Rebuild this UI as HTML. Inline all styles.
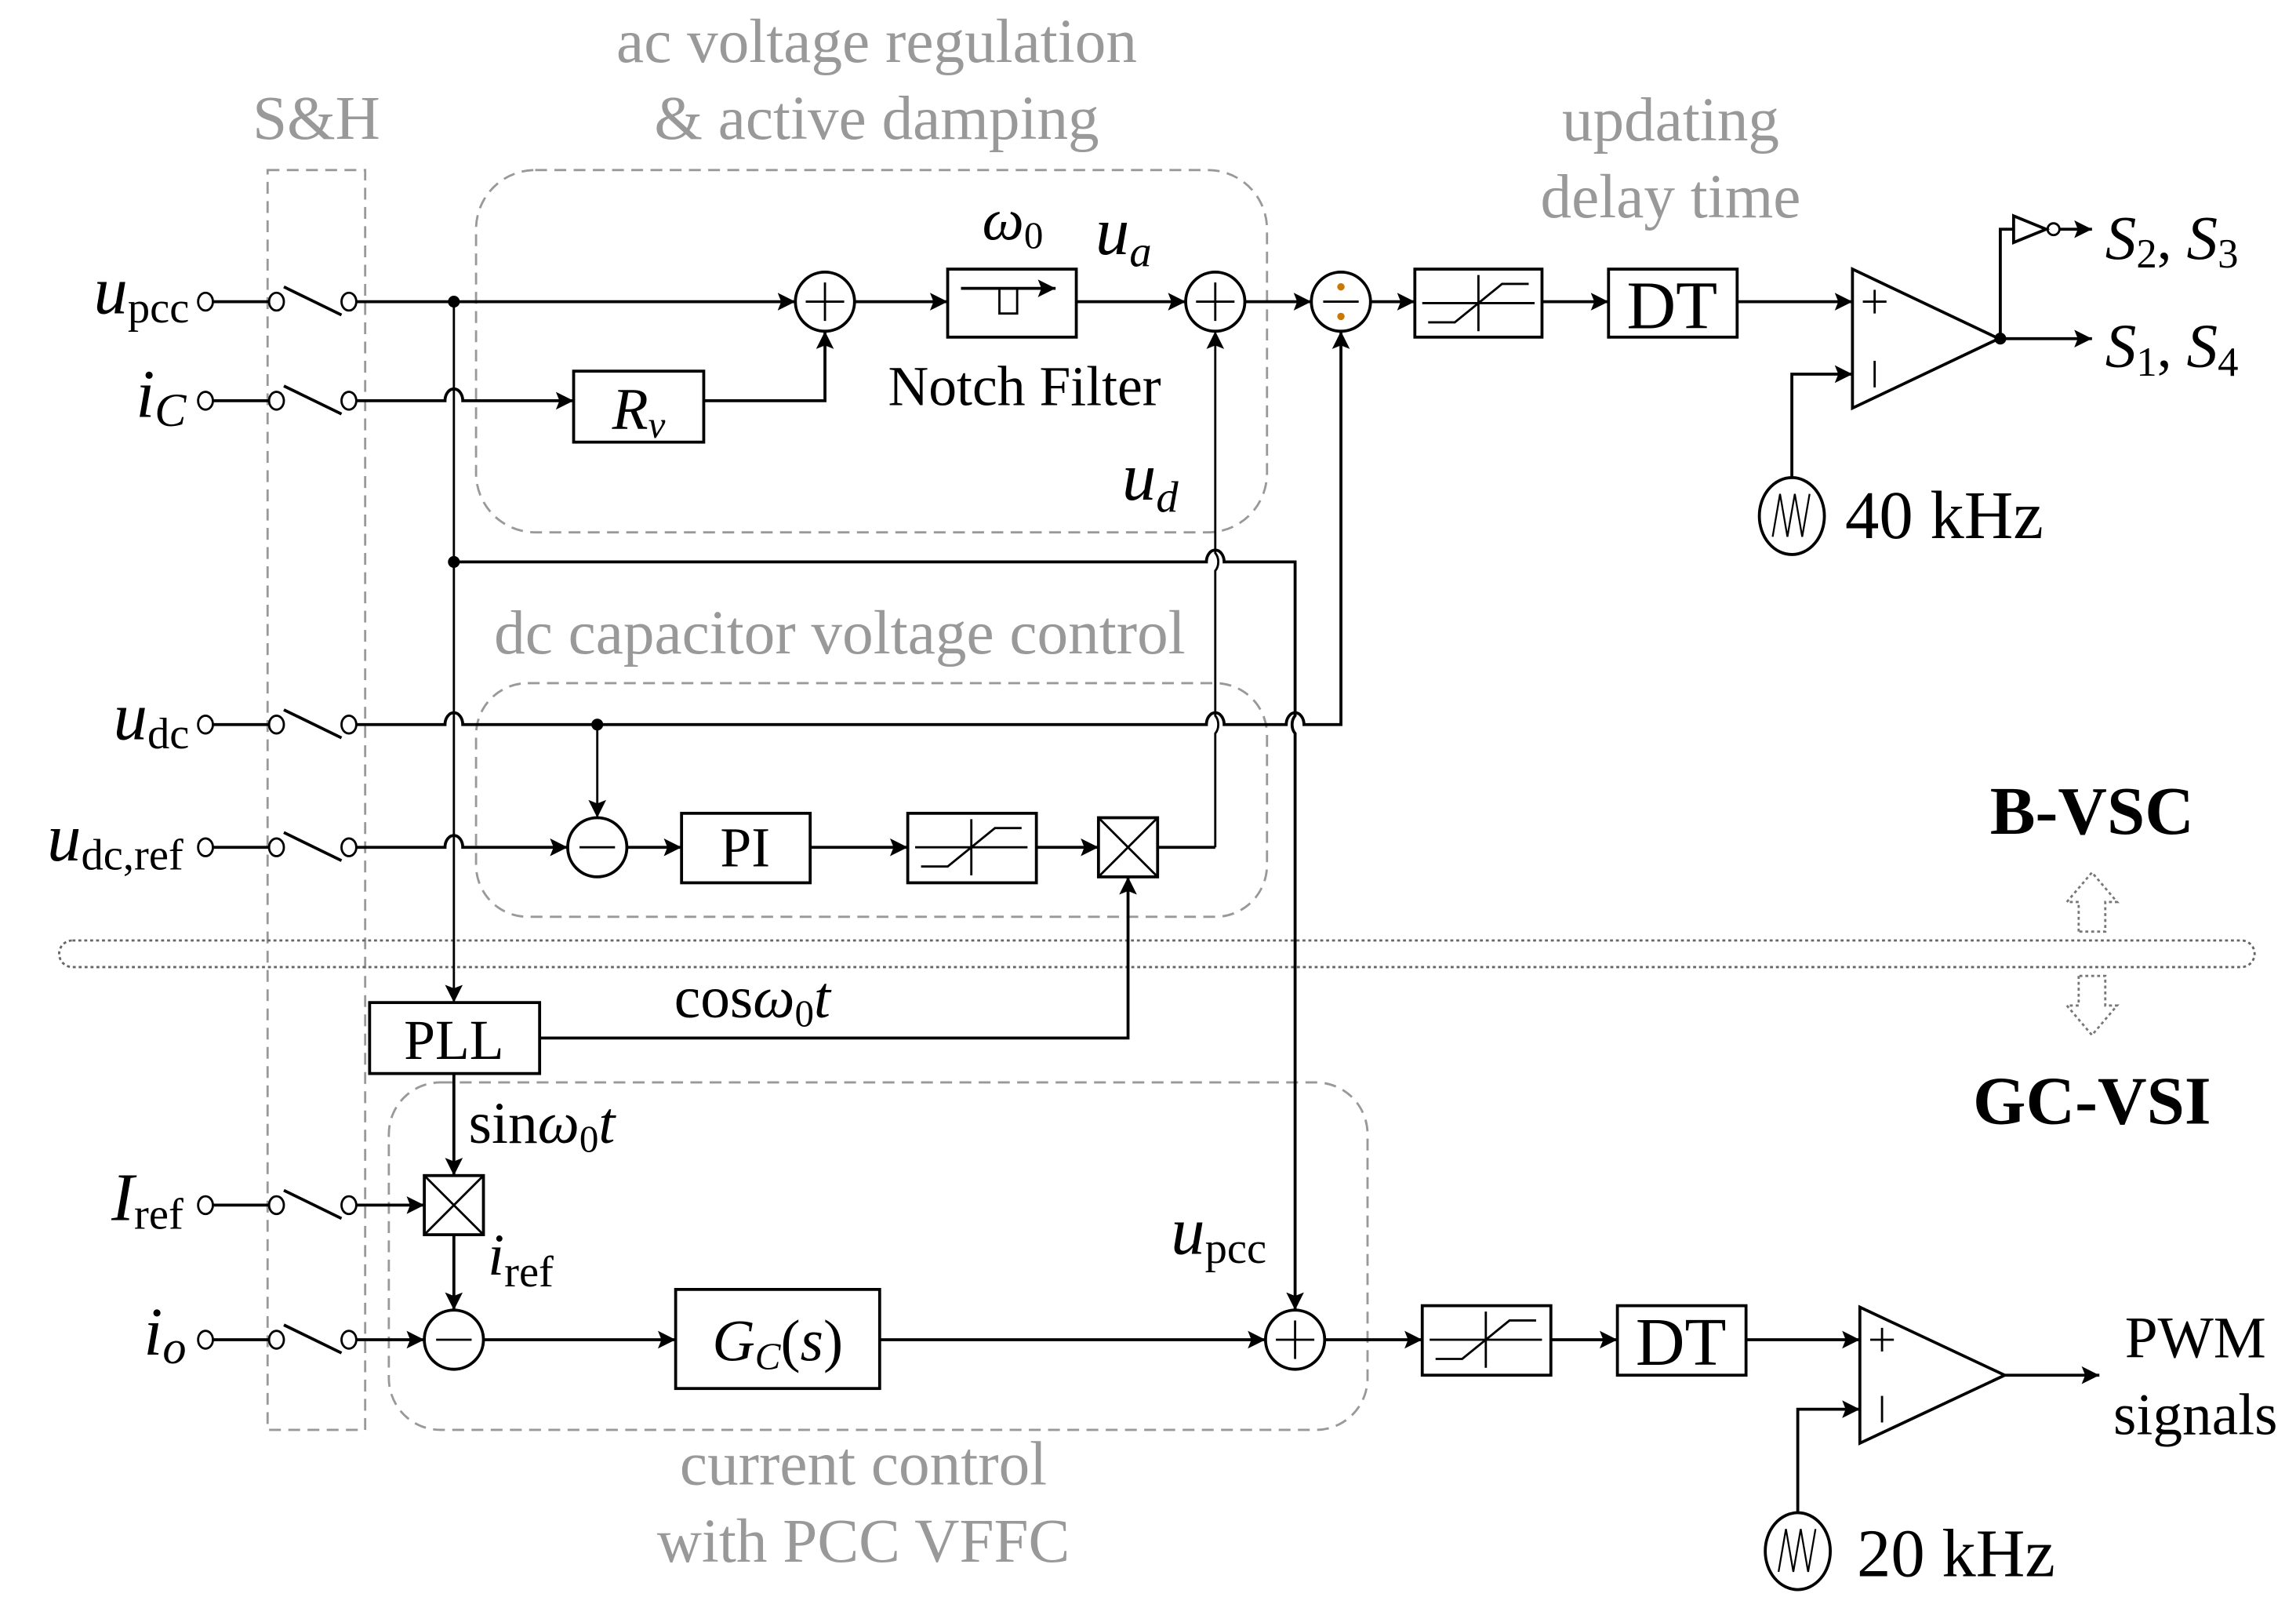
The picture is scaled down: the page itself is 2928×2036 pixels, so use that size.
<!DOCTYPE html>
<html><head><meta charset="utf-8"><style>
html,body{margin:0;padding:0;background:#fff;}
svg{display:block;}
text{font-family:"Liberation Serif",serif;}
.g{fill:#999;font-size:42px;text-anchor:middle;}
.i{font-style:italic;}
</style></head><body>
<svg width="2928" height="2036" viewBox="0 0 1553 1080" preserveAspectRatio="none" xmlns="http://www.w3.org/2000/svg">
<defs>
<marker id="a" viewBox="0 0 10 10" refX="10" refY="5" markerWidth="16" markerHeight="12" markerUnits="userSpaceOnUse" orient="auto">
<path d="M0,0 L10,5 L0,10 L2,5 z" fill="#000"/></marker>
</defs>
<g fill="none" stroke="#000" stroke-width="2">
<rect x="181" y="115" width="66" height="852" stroke="#999" stroke-dasharray="8,5" stroke-width="1.5"/>
<rect x="322" y="115" width="535" height="245" rx="40" stroke="#999" stroke-dasharray="8,5" stroke-width="1.5"/>
<rect x="322" y="462" width="535" height="158" rx="35" stroke="#999" stroke-dasharray="8,5" stroke-width="1.5"/>
<rect x="263" y="732" width="662" height="235" rx="35" stroke="#999" stroke-dasharray="8,5" stroke-width="1.5"/>
<rect x="40" y="636" width="1485" height="18" rx="9" stroke="#666" stroke-dasharray="2,2" stroke-width="1.5"/>
<path d="M1406,630 V610 H1398 L1415,590 L1432,610 H1424 V630 Z" stroke="#777" stroke-dasharray="2,2" stroke-width="1.5"/>
<path d="M1406,660 V680 H1398 L1415,700 L1432,680 H1424 V660 Z" stroke="#777" stroke-dasharray="2,2" stroke-width="1.5"/>
<path d="M144,204 H182 M192,194 L231,213"/>
<path d="M144,271 H182 M192,261 L231,280"/>
<path d="M144,490 H182 M192,480 L231,499"/>
<path d="M144,573 H182 M192,563 L231,582"/>
<path d="M144,815 H182 M192,805 L231,824"/>
<path d="M144,906 H182 M192,896 L231,915"/>
</g>
<g fill="#fff" stroke="#000" stroke-width="1.5">
<ellipse cx="139" cy="204" rx="5" ry="6"/><ellipse cx="187" cy="204" rx="5" ry="6"/><ellipse cx="236" cy="204" rx="5" ry="6"/>
<ellipse cx="139" cy="271" rx="5" ry="6"/><ellipse cx="187" cy="271" rx="5" ry="6"/><ellipse cx="236" cy="271" rx="5" ry="6"/>
<ellipse cx="139" cy="490" rx="5" ry="6"/><ellipse cx="187" cy="490" rx="5" ry="6"/><ellipse cx="236" cy="490" rx="5" ry="6"/>
<ellipse cx="139" cy="573" rx="5" ry="6"/><ellipse cx="187" cy="573" rx="5" ry="6"/><ellipse cx="236" cy="573" rx="5" ry="6"/>
<ellipse cx="139" cy="815" rx="5" ry="6"/><ellipse cx="187" cy="815" rx="5" ry="6"/><ellipse cx="236" cy="815" rx="5" ry="6"/>
<ellipse cx="139" cy="906" rx="5" ry="6"/><ellipse cx="187" cy="906" rx="5" ry="6"/><ellipse cx="236" cy="906" rx="5" ry="6"/>
</g>
<g fill="none" stroke="#000" stroke-width="2">
<path d="M241,204 H538" marker-end="url(#a)"/>
<path d="M307,204 V678" stroke-width="1.5" marker-end="url(#a)"/>
<path d="M241,271 H301 A6,8 0 0 1 313,271 H388" marker-end="url(#a)"/>
<rect x="388" y="251" width="88" height="48"/>
<path d="M476,271 H558 V224" marker-end="url(#a)"/>
<circle cx="558" cy="204" r="20"/>
<path d="M545,204 H571 M558,191 V217" stroke-width="1.5"/>
<path d="M578,204 H641" marker-end="url(#a)"/>
<rect x="641" y="182" width="87" height="46"/>
<path d="M650,195 H714" marker-end="url(#a)"/>
<path d="M676,195 V212 H688 V195" stroke-width="1.5"/>
<path d="M728,204 H802" marker-end="url(#a)"/>
<circle cx="822" cy="204" r="20"/>
<path d="M809,204 H835 M822,191 V217" stroke-width="1.5"/>
<path d="M842,204 H887" marker-end="url(#a)"/>
<circle cx="907" cy="204" r="20"/>
<path d="M895,204 H919" stroke-width="1.5"/>
<circle cx="907" cy="194" r="2.5" fill="#c70" stroke="none"/><circle cx="907" cy="214" r="2.5" fill="#c70" stroke="none"/>
<path d="M927,204 H957" marker-end="url(#a)"/>
<rect x="957" y="182" width="86" height="46"/>
<path d="M966,218 H984 L1016,192 H1034 M1000,186 V224 M962,205 H1038" stroke-width="1.5"/>
<path d="M1043,204 H1088" marker-end="url(#a)"/>
<rect x="1088" y="182" width="87" height="46"/>
<path d="M1175,204 H1253" marker-end="url(#a)"/>
<path d="M1253,182 L1352,229 L1253,276 Z"/>
<path d="M1260,204 H1276 M1268,196 V212 M1268,244 V262" stroke-width="1.5"/>
<path d="M1352,229 H1415" marker-end="url(#a)"/>
<path d="M1353,229 V155 H1362"/>
<path d="M1362,146 L1384,155 L1362,164 Z"/>
<circle cx="1389" cy="155" r="4" stroke-width="1.5"/>
<path d="M1393,155 H1415" marker-end="url(#a)"/>
<path d="M1212,323 V253 H1253" marker-end="url(#a)"/>
<ellipse cx="1212" cy="349" rx="22" ry="26"/>
<path d="M1199,363 L1204,334 L1209,363 L1214,334 L1219,363 L1224,334" stroke-width="1.2"/>
<path d="M822,573 V496 A6,8 0 0 0 822,484 V386 A6,8 0 0 0 822,374 V224" stroke-width="1.5" marker-end="url(#a)"/>
<path d="M307,380 H816 A6,8 0 0 1 828,380 H876 V484 A6,8 0 0 0 876,496 V886" marker-end="url(#a)"/>
<path d="M241,490 H301 A6,8 0 0 1 313,490 H816 A6,8 0 0 1 828,490 H870 A6,8 0 0 1 882,490 H907 V224" marker-end="url(#a)"/>
<path d="M404,490 V553" stroke-width="1.5" marker-end="url(#a)"/>
<path d="M241,573 H301 A6,8 0 0 1 313,573 H384" marker-end="url(#a)"/>
<circle cx="404" cy="573" r="20"/>
<path d="M392,573 H416" stroke-width="1.5"/>
<path d="M424,573 H461" marker-end="url(#a)"/>
<rect x="461" y="550" width="87" height="47"/>
<path d="M548,573 H614" marker-end="url(#a)"/>
<rect x="614" y="550" width="87" height="47"/>
<path d="M623,586 H641 L673,560 H691 M657,554 V592 M619,573 H695" stroke-width="1.5"/>
<path d="M701,573 H743" marker-end="url(#a)"/>
<rect x="743" y="553" width="40" height="40"/>
<path d="M743,553 L783,593 M783,553 L743,593" stroke-width="1.5"/>
<path d="M783,573 H822"/>
<rect x="250" y="678" width="115" height="48"/>
<path d="M365,702 H763 V593" marker-end="url(#a)"/>
<path d="M307,726 V795" marker-end="url(#a)"/>
<path d="M241,815 H287" marker-end="url(#a)"/>
<rect x="287" y="795" width="40" height="40"/>
<path d="M287,795 L327,835 M327,795 L287,835" stroke-width="1.5"/>
<path d="M307,835 V886" marker-end="url(#a)"/>
<path d="M241,906 H287" marker-end="url(#a)"/>
<circle cx="307" cy="906" r="20"/>
<path d="M295,906 H319" stroke-width="1.5"/>
<path d="M327,906 H457" marker-end="url(#a)"/>
<rect x="457" y="872" width="138" height="67"/>
<path d="M595,906 H856" marker-end="url(#a)"/>
<circle cx="876" cy="906" r="20"/>
<path d="M863,906 H889 M876,893 V919" stroke-width="1.5"/>
<path d="M896,906 H962" marker-end="url(#a)"/>
<rect x="962" y="883" width="87" height="47"/>
<path d="M971,919 H989 L1021,893 H1039 M1005,887 V925 M967,906 H1043" stroke-width="1.5"/>
<path d="M1049,906 H1094" marker-end="url(#a)"/>
<rect x="1094" y="883" width="87" height="47"/>
<path d="M1181,906 H1258" marker-end="url(#a)"/>
<path d="M1258,884 L1356,930 L1258,976 Z"/>
<path d="M1265,906 H1281 M1273,898 V914 M1273,944 V962" stroke-width="1.5"/>
<path d="M1356,930 H1420" marker-end="url(#a)"/>
<path d="M1216,1023 V953 H1258" marker-end="url(#a)"/>
<ellipse cx="1216" cy="1049" rx="22" ry="26"/>
<path d="M1203,1063 L1208,1034 L1213,1063 L1218,1034 L1223,1063 L1228,1034" stroke-width="1.2"/>
</g>
<g fill="#000">
<circle cx="307" cy="204" r="4"/><circle cx="307" cy="380" r="4"/><circle cx="404" cy="490" r="4"/><circle cx="1353" cy="229" r="4"/>
</g>
<g font-size="40">
<text x="128" y="212" text-anchor="end"><tspan class="i" font-size="46">u</tspan><tspan font-size="30" dy="6">pcc</tspan></text>
<text x="126" y="282" text-anchor="end"><tspan class="i" font-size="46">i</tspan><tspan class="i" font-size="32" dy="6">C</tspan></text>
<text x="128" y="500" text-anchor="end"><tspan class="i" font-size="46">u</tspan><tspan font-size="30" dy="6">dc</tspan></text>
<text x="124" y="582" text-anchor="end"><tspan class="i" font-size="46">u</tspan><tspan font-size="30" dy="6">dc,ref</tspan></text>
<text x="124" y="825" text-anchor="end"><tspan class="i" font-size="46">I</tspan><tspan font-size="30" dy="6">ref</tspan></text>
<text x="126" y="916" text-anchor="end"><tspan class="i" font-size="46">i</tspan><tspan class="i" font-size="32" dy="6">o</tspan></text>
<text x="432" y="290" text-anchor="middle"><tspan class="i">R</tspan><tspan class="i" font-size="26" dy="6">v</tspan></text>
<text x="685" y="162" text-anchor="middle"><tspan class="i">ω</tspan><tspan font-size="26" dy="6">0</tspan></text>
<text x="760" y="172" text-anchor="middle"><tspan class="i" font-size="46">u</tspan><tspan class="i" font-size="30" dy="8">a</tspan></text>
<text x="693" y="274" text-anchor="middle" font-size="38">Notch Filter</text>
<text x="778" y="338" text-anchor="middle"><tspan class="i" font-size="46">u</tspan><tspan class="i" font-size="30" dy="8">d</tspan></text>
<text x="1131" y="222" text-anchor="middle" font-size="46">DT</text>
<text x="1137" y="923" text-anchor="middle" font-size="46">DT</text>
<text x="504" y="586" text-anchor="middle" font-size="38">PI</text>
<text x="307" y="716" text-anchor="middle" font-size="38">PLL</text>
<text x="456" y="688"><tspan>cos</tspan><tspan class="i">ω</tspan><tspan font-size="26" dy="6">0</tspan><tspan class="i" dy="-6">t</tspan></text>
<text x="317" y="773"><tspan>sin</tspan><tspan class="i">ω</tspan><tspan font-size="26" dy="6">0</tspan><tspan class="i" dy="-6">t</tspan></text>
<text x="330" y="862"><tspan class="i">i</tspan><tspan font-size="30" dy="8">ref</tspan></text>
<text x="792" y="848"><tspan class="i" font-size="46">u</tspan><tspan font-size="30" dy="6">pcc</tspan></text>
<text x="526" y="920" text-anchor="middle"><tspan class="i">G</tspan><tspan class="i" font-size="26" dy="6">C</tspan><tspan dy="-6">(</tspan><tspan class="i">s</tspan><tspan>)</tspan></text>
<text x="1424" y="175"><tspan class="i" font-size="42">S</tspan><tspan font-size="28" dy="6">2</tspan><tspan dy="-6">, </tspan><tspan class="i" font-size="42">S</tspan><tspan font-size="28" dy="6">3</tspan></text>
<text x="1424" y="248"><tspan class="i" font-size="42">S</tspan><tspan font-size="28" dy="6">1</tspan><tspan dy="-6">, </tspan><tspan class="i" font-size="42">S</tspan><tspan font-size="28" dy="6">4</tspan></text>
<text x="1248" y="364" font-size="46">40 kHz</text>
<text x="1256" y="1066" font-size="46">20 kHz</text>
<text x="1485" y="918" text-anchor="middle" font-size="40">PWM</text>
<text x="1485" y="970" text-anchor="middle" font-size="40">signals</text>
<text x="1415" y="564" text-anchor="middle" font-size="46" font-weight="bold">B-VSC</text>
<text x="1415" y="760" text-anchor="middle" font-size="46" font-weight="bold">GC-VSI</text>
</g>
<text class="g" x="214" y="94" font-size="32">S&amp;H</text>
<text class="g" x="593" y="42">ac voltage regulation</text>
<text class="g" x="593" y="94">&amp; active damping</text>
<text class="g" x="1130" y="95">updating</text>
<text class="g" x="1130" y="147">delay time</text>
<text class="g" x="568" y="442">dc capacitor voltage control</text>
<text class="g" x="584" y="1004">current control</text>
<text class="g" x="584" y="1056">with PCC VFFC</text>
</svg>
</body></html>
